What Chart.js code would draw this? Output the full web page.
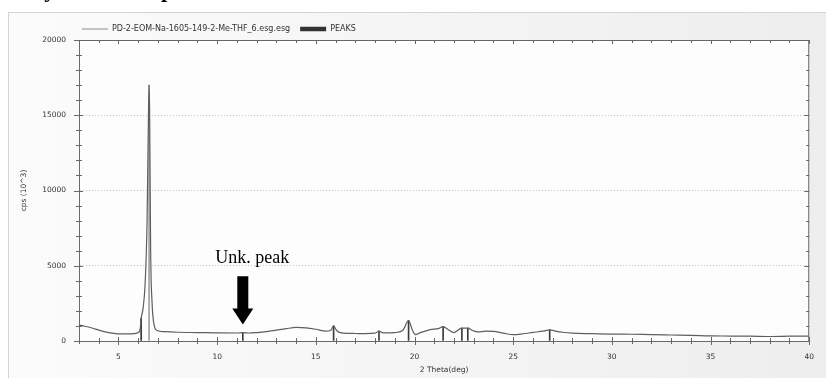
<!DOCTYPE html>
<html><head><meta charset="utf-8">
<script src="https://cdn.jsdelivr.net/npm/chart.js@4"></script>
<style>
html,body{margin:0;padding:0;background:#fff;}
#wrap{position:relative;width:826px;height:378px;overflow:hidden;}
#panel{position:absolute;left:8px;top:12px;width:830px;height:380px;border:1px solid #d4d4d4;background:linear-gradient(to right,#fbfbfb 0%,#f4f4f4 55%,#ededed 100%);}
#title{position:absolute;left:-1px;top:-21px;font:bold 22px 'Liberation Serif',serif;line-height:22px;color:#000;white-space:nowrap;}
canvas{position:absolute;left:0;top:0;}
</style></head><body>
<div id="wrap"><div id="panel"></div><div id="title">Analysis of XRD peaks</div><canvas id="c" width="826" height="378"></canvas></div>
<script>
// ---- data ----
const seriesName = 'PD-2-EOM-Na-1605-149-2-Me-THF_6.esg.esg';
const peaksName = 'PEAKS';
const theta = [3.0,3.3,3.7,4.0,4.5,5.0,5.5,5.8,6.0,6.1,6.15,6.25,6.35,6.45,6.52,6.55,6.58,6.63,6.7,6.8,6.95,7.3,8.0,9.0,10.0,11.0,11.3,11.6,12.0,12.5,13.0,13.5,14.0,14.5,15.0,15.5,15.75,15.9,16.05,16.3,17.0,17.5,18.0,18.2,18.4,19.0,19.4,19.7,19.9,20.05,20.3,20.8,21.2,21.45,21.7,22.0,22.4,22.7,22.95,23.2,23.6,24.0,24.5,25.0,25.5,26.0,26.5,26.85,27.2,27.5,28.0,29.0,30.0,31.0,32.0,33.0,34.0,35.0,36.0,37.0,38.0,39.0,40.0];
const intensity = [1060,980,850,720,560,480,470,490,560,800,1500,2200,3800,8000,15000,17000,15000,6000,2600,1100,700,620,580,560,540,530,560,530,560,620,720,820,900,870,780,660,700,1000,700,540,500,490,520,660,540,560,700,1350,700,420,560,760,820,950,760,560,860,860,700,600,650,640,520,420,480,570,650,740,640,580,520,490,460,450,420,400,380,340,330,320,300,320,330];
const peakTheta = [6.15,6.55,11.3,15.9,18.2,19.7,21.45,22.4,22.7,26.85];
const peakHeight = [1500,17000,560,1000,660,1350,950,860,860,740];
const xTickLabels = [5,10,15,20,25,30,35,40];
const yTickLabels = [0,5000,10000,15000,20000];
const annotationText = 'Unk. peak';
const arrowAt = 11.3, arrowFrom = 4300, arrowTo = 1100;
const textAt = [11.78, 5520];

const lineData = theta.map((t,i)=>({x:t,y:intensity[i]}));
const peakData = peakTheta.map((t,i)=>({x:t,y:peakHeight[i]}));

const smallFont = {family:"'DejaVu Sans', sans-serif", size:7.5};
const legendFont = {family:"'DejaVu Sans', sans-serif", size:8};

const plotBg = {
  id:'plotBg',
  afterLayout(chart){
    const lg = chart.legend;
    if(lg){ lg.left -= 7; lg.right -= 7; lg.top += 3; lg.bottom += 3; }
  },
  beforeDraw(chart){
    const {ctx, chartArea:a} = chart;
    ctx.save(); ctx.fillStyle='#fdfdfd';
    ctx.fillRect(a.left,a.top,a.right-a.left,a.bottom-a.top);
    ctx.restore();
  }
};
const frameTicks = {
  id:'frameTicks',
  afterDraw(chart){
    const {ctx, chartArea:a, scales:{x,y}} = chart;
    ctx.save();
    ctx.strokeStyle='#666'; ctx.lineWidth=1;
    ctx.beginPath();
    ctx.moveTo(a.left, a.top+0.5); ctx.lineTo(a.right, a.top+0.5);
    ctx.moveTo(a.right-0.5, a.top); ctx.lineTo(a.right-0.5, a.bottom);
    for(let v=3; v<=40; v++){
      const px = Math.round(x.getPixelForValue(v))+0.5;
      const major = v%5===0;
      ctx.moveTo(px, a.bottom-(major?4:3)); ctx.lineTo(px, a.bottom+(major?4:3));
      ctx.moveTo(px, a.top); ctx.lineTo(px, a.top+(major?4:3));
    }
    for(let v=0; v<=20000; v+=1000){
      const py = Math.round(y.getPixelForValue(v))+0.5;
      const major = v%5000===0;
      ctx.moveTo(a.left-(major?5:3), py); ctx.lineTo(a.left+(major?4:3), py);
      ctx.moveTo(a.right-(major?5:3), py); ctx.lineTo(a.right, py);
    }
    ctx.stroke();
    ctx.restore();
  }
};
const annot = {
  id:'annot',
  afterDatasetsDraw(chart){
    const {ctx, scales:{x,y}} = chart;
    const cx = x.getPixelForValue(arrowAt);
    const top = y.getPixelForValue(arrowFrom);
    const tip = y.getPixelForValue(arrowTo);
    const headH = 16, headW = 10.5, shaftW = 5.5;
    ctx.save();
    ctx.fillStyle='#000';
    ctx.beginPath();
    ctx.moveTo(cx-shaftW, top); ctx.lineTo(cx+shaftW, top);
    ctx.lineTo(cx+shaftW, tip-headH); ctx.lineTo(cx+headW, tip-headH);
    ctx.lineTo(cx, tip); ctx.lineTo(cx-headW, tip-headH);
    ctx.lineTo(cx-shaftW, tip-headH); ctx.closePath(); ctx.fill();
    ctx.font = "18px 'Liberation Serif', serif";
    ctx.textAlign='center'; ctx.textBaseline='middle';
    ctx.fillText(annotationText, x.getPixelForValue(textAt[0]), y.getPixelForValue(textAt[1]));
    ctx.restore();
  }
};

new Chart(document.getElementById('c'), {
  type:'line',
  data:{
    datasets:[
      {label:seriesName, data:lineData, borderColor:'#5e5e5e', borderWidth:1.2, pointRadius:0, cubicInterpolationMode:'monotone', order:1},
      {type:'bar', label:peaksName, data:peakData, barThickness:1,
       backgroundColor:(c)=> (c.raw && c.raw.y>10000) ? '#a0a0a0' : '#3a3a3a', order:2}
    ]
  },
  options:{
    responsive:false, animation:false, events:[],
    layout:{padding:{top:12,right:10,bottom:0,left:0}},
    plugins:{
      tooltip:{enabled:false},
      legend:{
        position:'top', align:'start', fullSize:false,
        labels:{
          usePointStyle:true, pointStyleWidth:26, boxHeight:4.5, padding:10,
          font:legendFont, color:'#333',
          generateLabels:()=>[
            {text:seriesName, pointStyle:'line', strokeStyle:'#8a8a8a', fillStyle:'#8a8a8a', lineWidth:1, fontColor:'#333', datasetIndex:0},
            {text:peaksName, pointStyle:'rect', strokeStyle:'#333', fillStyle:'#333', lineWidth:0, fontColor:'#333', datasetIndex:1}
          ]
        }
      }
    },
    scales:{
      x:{
        type:'linear', min:3, max:40, offset:false,
        afterBuildTicks:(s)=>{ s.ticks = xTickLabels.map(v=>({value:v})); },
        afterFit:(s)=>{ s.height = 37; },
        grid:{display:false, drawTicks:false},
        border:{display:true, color:'#6a6a6a', width:1},
        ticks:{font:smallFont, color:'#333', padding:12, maxRotation:0, callback:(v)=>String(v)},
        title:{display:true, text:'2 Theta(deg)', font:smallFont, color:'#333', padding:{top:0,bottom:3}}
      },
      y:{
        type:'linear', min:0, max:20000,
        afterBuildTicks:(s)=>{ s.ticks = yTickLabels.map(v=>({value:v})); },
        afterFit:(s)=>{ s.width = 79; },
        grid:{drawTicks:false, color:(c)=> (c.tick && c.tick.value>0 && c.tick.value<20000) ? '#c4c4c4' : 'rgba(0,0,0,0)', lineWidth:1},
        border:{display:true, color:'#6a6a6a', width:1, dash:[1,2]},
        ticks:{font:smallFont, color:'#333', padding:13, callback:(v)=>String(v)},
        title:{display:true, text:'cps (10^3)', font:smallFont, color:'#333', padding:{top:20,bottom:0}}
      }
    }
  },
  plugins:[plotBg, frameTicks, annot]
});
</script>
</body></html>
